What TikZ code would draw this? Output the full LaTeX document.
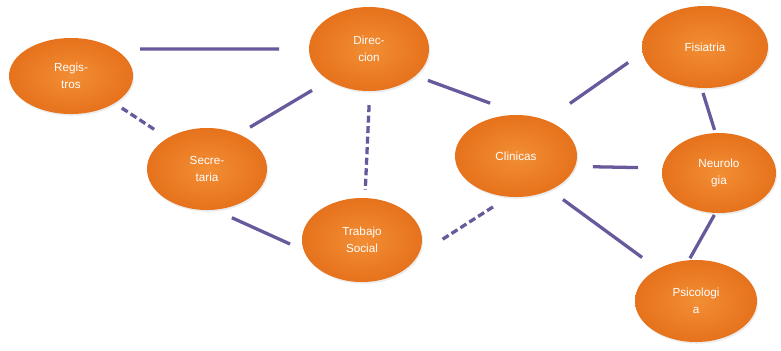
\documentclass[tikz,border=0pt]{standalone}
\usepackage{fontspec}
\setmainfont{Liberation Sans}
\usetikzlibrary{shapes.geometric,shadows}
\definecolor{linkcol}{RGB}{104,88,156}
\definecolor{areain}{RGB}{242,142,52}
\definecolor{areaout}{RGB}{230,114,28}
\tikzset{
	area/.style={ellipse, minimum width=3.66cm, minimum height=2.46cm, inner sep=1pt, outer sep=0pt,
		inner color=areain, outer color=areaout, text=white, align=center,
		font=\fontsize{10}{14}\selectfont,
		drop shadow={opacity=0.15, shadow xshift=1pt, shadow yshift=-1.5pt}},
	link/.style={line width=2.8pt, color=linkcol},
	dlink/.style={link, dash pattern=on 6pt off 3pt}
}
\begin{document}
\begin{tikzpicture}[x=0.03cm,y=-0.03cm]
			\useasboundingbox (0,0) rectangle (781,350);
			\node[area, minimum width=3.72cm, minimum height=2.28cm] (reg) at (71,76) {Regis-\\tros};
			\node[area, minimum width=3.6cm] (sec) at (207,169) {Secre-\\taria};
			\node[area, minimum width=3.6cm, minimum height=2.52cm] (dir) at (369,49) {Direc-\\cion};
			\node[area, minimum width=3.6cm, minimum height=2.52cm] (tra) at (362,240) {Trabajo\\Social};
			\node[area] (cli) at (516,156) {Clinicas};
			\node[area, minimum width=3.78cm] (fis) at (705,47) {Fisiatria};
			\node[area, minimum width=3.42cm, minimum height=2.4cm] (neu) at (719,173) {Neurolo\\gia};
			\node[area] (psi) at (696,301) {Psicologi\\a};
			\draw [link, shorten <=22pt, shorten >=25.5pt] (reg.32) -- (dir.west);
			\draw [dlink, shorten <=7.6pt, shorten >=12.7pt] (reg.-32) -- (sec.142);
			\draw [link, shorten <=11.5pt, shorten >=16.8pt] (sec.48) -- (dir.-142);
			\draw [dlink, shorten <=12pt, shorten >=7pt] (dir.-89) -- (tra.86);
			\draw [link, shorten <=11.5pt, shorten >=30pt] (dir.-30) -- (cli.80);
			\draw [link, shorten <=16.6pt, shorten >=12.9pt] (sec.-80) -- (tra.190);
			\draw [dlink, shorten <=25pt, shorten >=16pt] (tra.-15) -- (cli.-100);
			\draw [link, shorten <=25pt, shorten >=15pt] (cli.50) -- (fis.185);
			\draw [link, shorten <=15.3pt, shorten >=20.7pt] (cli.-10) -- (neu.175);
			\draw [link, shorten <=13.7pt, shorten >=16.7pt] (cli.-45) -- (psi.140);
			\draw [link, shorten <=4.5pt, shorten >=2.8pt] (fis.-95) -- (neu.95);
			\draw [link, shorten <=2pt, shorten >=2pt] (neu.-95) -- (psi.100);
		\end{tikzpicture}
\end{document}
